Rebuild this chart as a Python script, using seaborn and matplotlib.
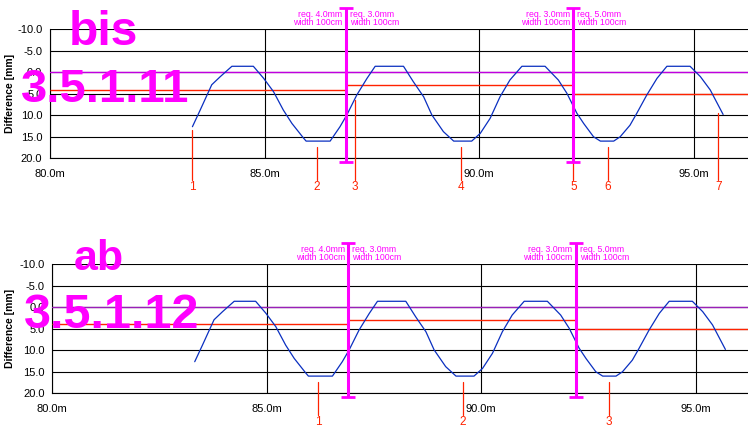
import matplotlib
matplotlib.use("Agg")
import matplotlib.pyplot as plt
import pandas as pd
import seaborn as sns

# ---- data ----
dist_m = [83.32, 83.50, 83.77, 83.97, 84.24, 84.74, 84.98, 85.21, 85.44, 85.64,
          85.91, 85.97, 86.53, 86.76, 86.92, 87.15, 87.39, 87.58, 88.24, 88.47,
          88.71, 88.90, 89.17, 89.41, 89.83, 90.03, 90.26, 90.49, 90.72, 91.00,
          91.54, 91.85, 92.05, 92.28, 92.44, 92.67, 92.83, 93.14, 93.29, 93.52,
          93.68, 93.91, 94.15, 94.38, 94.92, 95.16, 95.39, 95.69]
diff_mm = [12.65, 8.8, 2.9, 1.0, -1.4, -1.4, 1.4, 4.5, 8.8, 11.9,
           15.3, 16.0, 16.0, 12.65, 9.9, 5.3, 1.4, -1.4, -1.4, 2.2,
           5.7, 9.9, 13.8, 16.0, 16.0, 14.2, 10.7, 5.7, 1.8, -1.4,
           -1.4, 1.8, 4.9, 9.5, 11.9, 15.0, 16.0, 16.0, 15.0, 12.3,
           9.5, 5.3, 1.4, -1.4, -1.4, 1.0, 4.1, 9.8]

req_start = [80.0, 86.9, 92.2]
req_end = [86.9, 92.2, 96.3]
req_value = [4.0, 3.0, 5.0]

section_x = [86.9, 92.2]
section_left_text = ["req. 4.0mm\nwidth 100cm", "req. 3.0mm\nwidth 100cm"]
section_right_text = ["req. 3.0mm\nwidth 100cm", "req. 5.0mm\nwidth 100cm"]

top_event_x = [83.32, 86.22, 87.10, 89.59, 92.20, 93.00, 95.58]
top_event_top = [13.4, 17.3, 6.4, 17.3, 21.0, 17.3, 9.4]
top_event_label = ["1", "2", "3", "4", "5", "6", "7"]

bot_event_x = [86.20, 89.57, 92.98]
bot_event_top = [17.3, 17.3, 17.3]
bot_event_label = ["1", "2", "3"]

x_ticks = [80, 85, 90, 95]
x_tick_labels = ["80.0m", "85.0m", "90.0m", "95.0m"]
y_ticks = [-10, -5, 0, 5, 10, 15, 20]
y_tick_labels = ["-10.0", "-5.0", "0.0", "5.0", "10.0", "15.0", "20.0"]

# ---- style ----
sns.set_style("white")
plt.rcParams["font.family"] = ["Liberation Sans", "DejaVu Sans"]

W, H = 748, 434
fig = plt.figure(figsize=(W / 100, H / 100), dpi=100)

BLUE = "#0a2fc0"
RED = "#ff2200"
MAG = "#ff00ff"
PX_PER_M = 42.9

df = pd.DataFrame({"Distance": dist_m, "Difference": diff_mm})


def panel(left_px, top_px, zero_color, ev_x, ev_top, ev_lab):
    height_px = 129.0
    ax = fig.add_axes([left_px / W, 1 - (top_px + height_px) / H,
                       (W - left_px) / W, height_px / H])
    xmax = 80 + (W - left_px) / PX_PER_M
    ax.set_xlim(80, xmax)
    ax.set_ylim(20, -10)
    ax.set_xticks(x_ticks)
    ax.set_xticklabels(x_tick_labels)
    ax.set_yticks(y_ticks)
    ax.set_yticklabels(y_tick_labels)
    ax.grid(True, color="black", lw=0.8)
    ax.set_axisbelow(True)
    for s in ["top", "right"]:
        ax.spines[s].set_visible(False)
    for s in ["left", "bottom"]:
        ax.spines[s].set_color("black")
        ax.spines[s].set_linewidth(0.8)
    ax.tick_params(axis="both", direction="out", length=3, width=0.8,
                   colors="black", labelsize=8)
    ax.tick_params(axis="x", pad=5)
    ax.tick_params(axis="y", pad=2.5)
    ax.set_xlabel("")
    ax.set_ylabel("")

    # zero line
    ax.axhline(0, color=zero_color, lw=1.0, zorder=3)
    # requirement line
    ends = list(req_end)
    ends[-1] = xmax
    ax.hlines(req_value, req_start, ends, color=RED, lw=1.0, zorder=3)
    # measured curve
    sns.lineplot(data=df, x="Distance", y="Difference", sort=False,
                 estimator=None, color=BLUE, lw=0.9, ax=ax, zorder=4)
    ax.set_xlabel("")
    ax.set_ylabel("")

    # event markers
    for x, t, lab in zip(ev_x, ev_top, ev_lab):
        ax.plot([x, x], [t, 25.0], color=RED, lw=0.9, clip_on=False, zorder=5)
        ax.text(x, 26.6, lab, color=RED, fontsize=8.5, ha="center",
                va="center", clip_on=False)

    # section markers
    for x, lt, rt in zip(section_x, section_left_text, section_right_text):
        ax.plot([x, x], [-15.0, 20.9], color=MAG, lw=2.2, clip_on=False,
                zorder=6, marker="_", ms=9.5, mew=2.0, solid_capstyle="butt")
        ax.annotate(lt, xy=(x, 1.0), xycoords=("data", "axes fraction"),
                    xytext=(-2.5, 1.5), textcoords="offset points",
                    ha="right", va="bottom", fontsize=6.3, color=MAG,
                    linespacing=0.95, multialignment="right")
        ax.annotate(rt, xy=(x, 1.0), xycoords=("data", "axes fraction"),
                    xytext=(2.8, 1.5), textcoords="offset points",
                    ha="left", va="bottom", fontsize=6.3, color=MAG,
                    linespacing=0.95, multialignment="left")

    fig.text(10 / W, 1 - (top_px + height_px / 2) / H, "Difference [mm]",
             rotation=90, ha="center", va="center", fontsize=7.5,
             fontweight="bold", color="black")
    return ax


panel(50.0, 29.3, "#c000e0", top_event_x, top_event_top, top_event_label)
panel(52.3, 264.3, "#9a20b8", bot_event_x, bot_event_top, bot_event_label)

big = dict(color=MAG, fontweight="bold", ha="left", va="baseline")
fig.text(69 / W, 1 - 45 / H, "bis", fontsize=34.5, **big)
fig.text(20.5 / W, 1 - 101.7 / H, "3.5.1.11", fontsize=34, **big)
fig.text(73.5 / W, 1 - 269.7 / H, "ab", fontsize=31, **big)
fig.text(23.5 / W, 1 - 328 / H, "3.5.1.12", fontsize=35, **big)

fig.savefig("out.png", dpi=100)
